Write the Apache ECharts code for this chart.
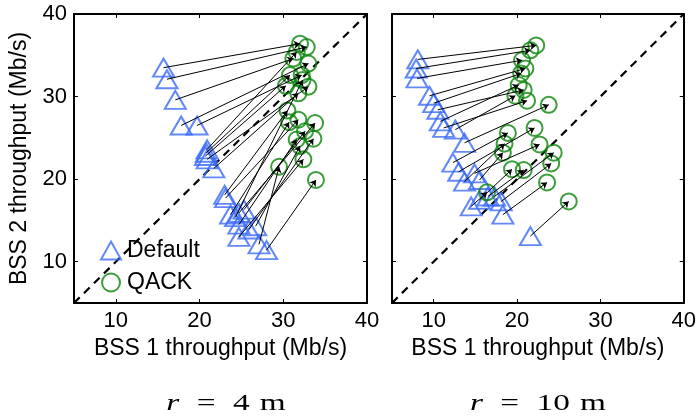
<!DOCTYPE html>
<html>
<head>
<meta charset="utf-8">
<script src="https://cdn.jsdelivr.net/npm/echarts@6/dist/echarts.min.js"></script>
<style>
  html, body { margin: 0; padding: 0; background: #fff; }
  #chart { width: 699px; height: 420px; }
</style>
</head>
<body>
<div id="chart"></div>
<script>
// Axis ticks shared by both panels
const ticks = [10, 20, 30, 40];

// r = 4 m : throughput pairs (BSS 1, BSS 2), Default -> QACK, same order
const default4 = [
  [15.7, 33.5], [16.1, 32.1], [17.1, 29.6], [17.8, 26.5], [19.7, 26.5],
  [20.9, 23.6], [20.8, 23.2], [20.7, 22.8], [20.9, 22.4], [21.7, 21.3],
  [23.0, 18.1], [23.1, 17.7], [23.7, 15.7], [24.7, 15.9], [25.3, 16.3],
  [24.7, 14.5], [25.9, 13.9], [26.7, 14.3], [24.7, 13.0], [27.1, 12.1],
  [28.0, 11.4], [24.3, 15.4]
];
const qack4 = [
  [32.0, 36.4], [32.8, 36.0], [31.2, 34.6], [33.0, 34.0], [32.2, 32.6],
  [31.6, 35.4], [30.8, 32.6], [30.3, 31.3], [33.0, 31.2], [31.8, 30.4],
  [30.5, 28.3], [31.8, 27.2], [30.7, 26.9], [33.8, 26.8], [32.6, 25.8],
  [31.6, 24.8], [33.6, 24.9], [32.0, 24.0], [32.4, 22.4], [29.5, 21.5],
  [33.9, 19.9], [32.3, 32.0]
];

// r = 10 m
const default10 = [
  [8.1, 34.5], [7.9, 33.4], [8.0, 32.2], [9.5, 30.1], [10.0, 29.2],
  [10.5, 28.4], [10.8, 27.0], [11.2, 26.2], [12.6, 26.0], [13.7, 24.4],
  [12.3, 22.0], [13.0, 20.9], [13.7, 19.7], [14.9, 20.7], [15.5, 19.9],
  [14.5, 16.7], [15.5, 17.5], [16.5, 17.9], [17.3, 17.9], [18.1, 17.3],
  [18.3, 15.7], [21.6, 13.1]
];
const qack10 = [
  [22.3, 36.2], [21.6, 35.6], [20.6, 34.4], [21.0, 33.4], [20.5, 32.8],
  [20.8, 30.8], [20.2, 31.4], [21.2, 29.5], [19.8, 30.1], [23.8, 29.0],
  [18.9, 25.6], [22.1, 26.2], [18.5, 24.3], [22.7, 24.2], [18.3, 23.2],
  [16.4, 18.4], [19.4, 21.2], [20.8, 21.1], [24.4, 23.2], [24.1, 21.9],
  [23.6, 19.6], [26.2, 17.3]
];

const axisRange = [5, 40];
const seriesNames = ['Default', 'QACK'];
const panelTitles = ['4', '10'];

const BLUE = '#3b6cf5';
const GREEN = '#0a850a';
const FONT = '"Liberation Sans", Arial, sans-serif';
const SERIF = '"Liberation Serif", "DejaVu Serif", serif';

const chart = echarts.init(document.getElementById('chart'), null, { renderer: 'canvas' });

const grids = [
  { left: 74, top: 14, width: 293, height: 289 },
  { left: 392, top: 14, width: 294, height: 289 }
];

function xAxes(gridIndex) {
  const base = {
    type: 'value', gridIndex: gridIndex, min: axisRange[0], max: axisRange[1],
    splitLine: { show: false },
    axisLine: { onZero: false, lineStyle: { color: '#000', width: 2 } },
    axisTick: { inside: true, length: 4, customValues: ticks, lineStyle: { color: '#000', width: 1 } }
  };
  return [
    Object.assign({}, base, {
      position: 'bottom',
      axisLabel: { customValues: ticks, color: '#000', fontFamily: FONT, fontSize: 22, margin: 7 },
      name: 'BSS 1 throughput (Mb/s)', nameLocation: 'middle', nameGap: 29,
      nameTextStyle: { color: '#000', fontFamily: FONT, fontSize: 23 }
    }),
    Object.assign({}, base, { position: 'top', axisLabel: { show: false } })
  ];
}

function yAxes(gridIndex, labelled) {
  const base = {
    type: 'value', gridIndex: gridIndex, min: axisRange[0], max: axisRange[1],
    splitLine: { show: false },
    axisLine: { onZero: false, lineStyle: { color: '#000', width: 2 } },
    axisTick: { inside: true, length: 4, customValues: ticks, lineStyle: { color: '#000', width: 1 } }
  };
  const left = Object.assign({}, base, {
    position: 'left',
    axisLabel: labelled
      ? { customValues: ticks, color: '#000', fontFamily: FONT, fontSize: 22, margin: 7 }
      : { show: false }
  });
  if (labelled) {
    Object.assign(left, {
      name: 'BSS 2 throughput (Mb/s)', nameLocation: 'middle', nameGap: 43,
      nameTextStyle: { color: '#000', fontFamily: FONT, fontSize: 23 }
    });
  }
  return [left, Object.assign({}, base, { position: 'right', axisLabel: { show: false } })];
}

function panelSeries(axisIdx, defs, qacks) {
  const arrows = defs.map((d, i) => ({ coords: [d, qacks[i]] }));
  return [
    {
      type: 'line', xAxisIndex: axisIdx, yAxisIndex: axisIdx,
      data: [[axisRange[0], axisRange[0]], [axisRange[1], axisRange[1]]],
      showSymbol: false, silent: true, z: 1,
      lineStyle: { color: '#000', width: 2.2, type: [8, 6] }
    },
    {
      name: seriesNames[0], type: 'scatter', xAxisIndex: axisIdx, yAxisIndex: axisIdx,
      data: defs, symbol: 'triangle', symbolSize: [21, 18], z: 2,
      itemStyle: { color: 'rgba(0,0,0,0)', borderColor: BLUE, borderWidth: 2 }
    },
    {
      name: seriesNames[1], type: 'scatter', xAxisIndex: axisIdx, yAxisIndex: axisIdx,
      data: qacks, symbol: 'circle', symbolSize: 16, z: 2,
      itemStyle: { color: 'rgba(0,0,0,0)', borderColor: GREEN, borderWidth: 2 }
    },
    {
      type: 'lines', coordinateSystem: 'cartesian2d', xAxisIndex: axisIdx, yAxisIndex: axisIdx,
      data: arrows, symbol: ['none', 'arrow'], symbolSize: 6, z: 3, silent: true,
      lineStyle: { color: '#000', width: 1, opacity: 1 }
    }
  ];
}

// Panel captions set in a wide math style: italic r, spaced relation sign
const captions = panelTitles.map((v, i) => ({
  type: 'text',
  x: i === 0 ? 226 : 538,
  y: 404,
  scaleX: 1.45,
  silent: true,
  style: {
    text: '{i|r}{e|=}' + v + '{m|m}',
    font: '23px ' + SERIF,
    fill: '#000',
    align: 'center',
    verticalAlign: 'middle',
    rich: {
      i: { fontFamily: SERIF, fontStyle: 'italic', fontSize: 23, fill: '#000', padding: [0, 12, 0, 0] },
      e: { fontFamily: SERIF, fontSize: 23, fill: '#000', padding: [0, 12, 0, 0] },
      m: { fontFamily: SERIF, fontSize: 23, fill: '#000', padding: [0, 0, 0, 7] }
    }
  }
}));

const option = {
  backgroundColor: '#fff',
  animation: false,
  grid: grids,
  xAxis: xAxes(0).concat(xAxes(1)),
  yAxis: yAxes(0, true).concat(yAxes(1, false)),
  legend: {
    data: seriesNames,
    left: 95, top: 234, orient: 'vertical', itemGap: 9,
    itemWidth: 20, itemHeight: 18,
    textStyle: { color: '#000', fontFamily: FONT, fontSize: 23, padding: [0, 0, 0, 1] }
  },
  graphic: captions,
  series: panelSeries(0, default4, qack4).concat(panelSeries(2, default10, qack10))
};

chart.setOption(option);
</script>
</body>
</html>
